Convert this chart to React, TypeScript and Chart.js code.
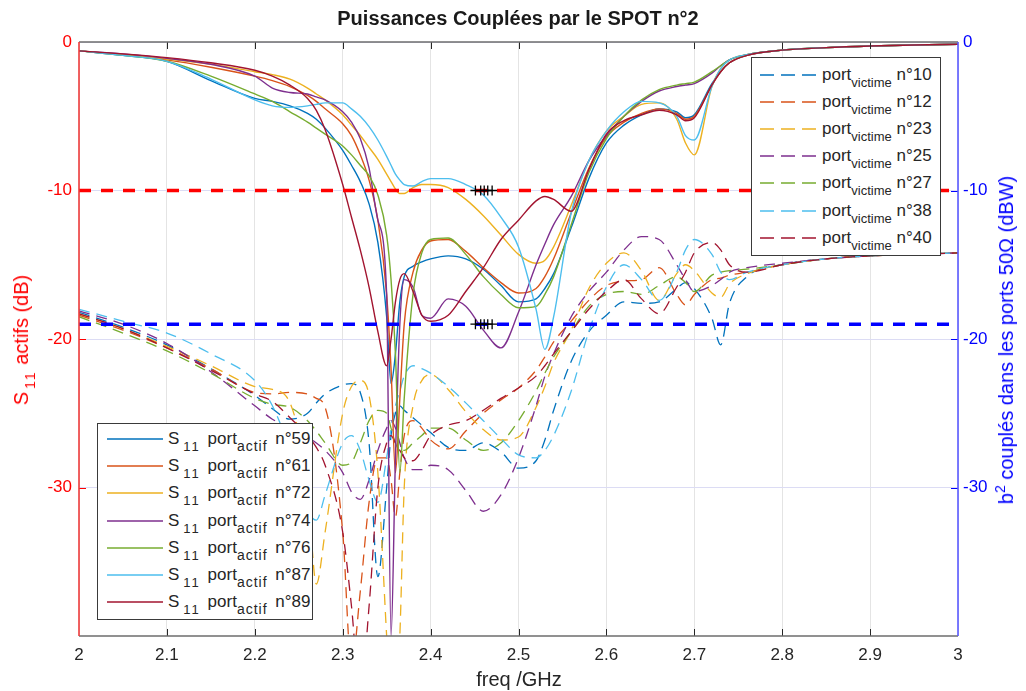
import React, { useEffect, useRef } from 'react';
import { Chart, registerables } from 'chart.js';
Chart.register(...registerables);

const FONT = "'Liberation Sans', Arial, Helvetica, sans-serif";

// ---------- data ----------
const freq = [2.0, 2.05, 2.1, 2.15, 2.2, 2.22, 2.24, 2.26, 2.27, 2.28, 2.3, 2.31, 2.32, 2.33, 2.34, 2.35, 2.355, 2.36, 2.365, 2.37, 2.38, 2.39, 2.4, 2.42, 2.44, 2.46, 2.48, 2.5, 2.52, 2.53, 2.54, 2.56, 2.58, 2.6, 2.62, 2.64, 2.66, 2.68, 2.69, 2.7, 2.72, 2.73, 2.74, 2.76, 2.8, 2.85, 2.9, 2.95, 3.0];

const s11Labels = ['59', '61', '72', '74', '76', '87', '89'];
const victimeLabels = ['10', '12', '23', '25', '27', '38', '40'];
const seriesColors = ['#0072BD', '#D95319', '#EDB120', '#7E2F8E', '#77AC30', '#4DBEEE', '#A2142F'];

const s11_59 = [-0.6, -0.9, -1.3, -2.6, -3.8, -4.0, -4.3, -4.8, -5.2, -5.8, -7.3, -8.3, -9.4, -10.9, -13.5, -18.5, -23.0, -21.0, -17.5, -15.8, -15.1, -14.8, -14.6, -14.4, -14.6, -15.3, -16.4, -17.5, -17.3, -16.6, -15.6, -12.5, -9.2, -6.8, -5.6, -4.9, -4.5, -4.7, -5.1, -4.9, -2.8, -2.0, -1.4, -0.9, -0.55, -0.38, -0.27, -0.2, -0.15];
const s11_61 = [-0.6, -0.85, -1.2, -1.7, -2.3, -2.6, -3.0, -3.6, -4.0, -4.5, -5.5, -6.3, -7.6, -9.3, -12.0, -17.0, -22.0, -29.0, -24.0, -19.0, -15.5, -14.0, -13.4, -13.3, -14.1, -15.2, -16.2, -16.9, -16.6, -15.8, -14.6, -11.5, -8.5, -6.4, -5.4, -4.8, -4.5, -4.8, -5.2, -5.0, -2.9, -2.0, -1.4, -0.9, -0.55, -0.38, -0.27, -0.2, -0.15];
const s11_72 = [-0.6, -0.85, -1.15, -1.5, -2.0, -2.2, -2.5, -3.1, -3.5, -3.9, -4.9, -5.6, -6.3, -7.1, -7.9, -8.9, -9.4, -9.9, -10.2, -10.2, -9.8, -9.6, -9.6, -9.8, -10.6, -11.7, -13.0, -14.3, -14.9, -14.7, -13.8, -11.0, -8.0, -6.0, -5.0, -4.2, -4.1, -5.2, -6.8, -7.6, -3.0, -1.8, -1.2, -0.85, -0.55, -0.38, -0.27, -0.2, -0.15];
const s11_74 = [-0.6, -0.8, -1.1, -1.5, -2.3, -3.1, -3.4, -3.5, -3.7, -3.9, -4.7, -5.4, -6.5, -8.5, -12.0, -17.0, -40.0, -28.0, -19.0, -16.0, -16.5, -18.4, -18.6, -17.3, -17.8, -19.4, -20.6, -18.2, -15.0, -13.6, -12.3, -10.4, -8.0, -6.3, -5.0, -4.0, -3.3, -3.0, -2.9, -2.8, -2.1, -1.6, -1.2, -0.85, -0.55, -0.38, -0.27, -0.2, -0.15];
const s11_76 = [-0.6, -0.9, -1.3, -2.3, -3.5, -4.0, -4.7, -5.4, -5.8, -6.2, -7.0, -7.6, -8.3, -9.0, -10.3, -13.0, -16.0, -21.0, -29.0, -24.0, -17.0, -14.2, -13.3, -13.2, -14.3, -15.8, -17.0, -17.9, -17.8, -17.0, -15.8, -12.3, -8.8, -6.5, -5.0, -3.9, -3.2, -2.9, -2.8, -2.7, -2.0, -1.6, -1.2, -0.85, -0.55, -0.38, -0.27, -0.2, -0.15];
const s11_87 = [-0.6, -0.9, -1.3, -2.5, -3.9, -4.3, -4.4, -4.3, -4.2, -4.1, -4.1, -4.5, -5.0, -5.7, -6.6, -7.7, -8.3, -8.9, -9.3, -9.6, -9.7, -9.4, -9.2, -9.2, -9.6, -10.3, -11.8, -13.8, -18.0, -20.7, -18.5, -11.5, -8.0, -6.0, -4.7, -4.0, -4.1, -5.0, -6.3, -6.6, -3.0, -1.8, -1.2, -0.85, -0.55, -0.38, -0.27, -0.2, -0.15];
const s11_89 = [-0.6, -0.8, -1.05, -1.4, -1.9, -2.3, -2.9, -3.8, -4.6, -5.9, -9.6, -11.8, -14.0, -16.5, -19.5, -21.8, -20.0, -17.5, -16.0, -15.6, -16.8, -18.4, -18.8, -18.4, -16.8, -15.2, -13.3, -12.0, -10.7, -10.4, -10.6, -11.4, -8.6, -6.2, -5.3, -4.9, -4.6, -4.9, -5.3, -5.1, -2.9, -2.0, -1.4, -0.9, -0.55, -0.38, -0.27, -0.2, -0.15];

const v_10 = [-18.2, -19.2, -20.4, -22.0, -23.8, -24.7, -25.4, -25.0, -24.3, -23.7, -23.1, -23.0, -23.6, -27.0, -36.0, -30.0, -26.5, -25.0, -24.5, -24.8, -25.3, -25.8, -26.3, -27.3, -27.5, -27.0, -27.6, -28.7, -28.2, -26.8, -24.8, -21.5, -19.5, -18.4, -17.5, -17.6, -17.5, -16.6, -16.2, -16.6, -18.6, -20.4, -17.6, -15.8, -15.0, -14.6, -14.4, -14.3, -14.2];
const v_12 = [-18.4, -19.4, -20.6, -22.0, -23.6, -23.7, -23.6, -23.7, -24.0, -24.6, -33.0, -42.0, -37.0, -31.0, -28.0, -28.0, -29.5, -32.0, -29.0, -26.5, -25.5, -26.0, -26.8, -27.4, -26.2, -25.0, -24.1, -23.3, -22.1, -21.2, -20.2, -18.8, -17.4, -16.4, -16.1, -16.0, -15.2, -17.0, -17.7, -17.0, -16.0, -15.9, -15.7, -15.5, -15.0, -14.6, -14.4, -14.3, -14.2];
const v_23 = [-18.3, -19.3, -20.5, -21.8, -23.2, -23.4, -24.3, -30.0, -36.5, -33.0, -25.0, -23.2, -22.8, -23.8, -29.0, -40.0, -45.0, -45.0, -40.0, -30.0, -24.5, -22.8, -22.4, -23.4, -24.9, -26.1, -26.8, -26.6, -24.6, -23.2, -21.6, -19.4, -16.6, -14.9, -14.2, -15.4, -17.4, -15.6, -15.0, -15.4, -16.9, -17.2, -16.3, -15.6, -15.0, -14.6, -14.4, -14.3, -14.2];
const v_25 = [-18.1, -19.0, -20.3, -22.2, -24.5, -25.4, -26.0, -26.6, -27.0, -27.5, -29.0, -30.3, -30.8, -29.5, -27.5, -26.0, -25.5, -26.0, -27.0, -28.0, -28.8, -28.8, -28.5, -28.8, -30.2, -31.6, -30.5, -28.0, -24.5, -22.5, -21.0, -18.5, -16.8, -15.5, -14.0, -13.1, -13.3, -15.0, -16.0, -16.8, -16.4, -16.0, -15.5, -15.2, -14.9, -14.6, -14.4, -14.3, -14.2];
const v_27 = [-18.5, -19.6, -20.8, -22.3, -24.0, -24.4, -24.6, -25.5, -26.2, -27.0, -28.5, -28.3, -27.0, -25.5, -24.8, -25.0, -26.0, -27.0, -27.5, -27.5, -27.0, -26.5, -26.0, -26.0, -26.8, -27.5, -27.0, -25.5, -23.5, -22.3, -21.2, -19.5, -17.8, -17.0, -16.8, -17.0, -16.4, -15.8, -16.2, -16.8, -15.7, -15.5, -15.4, -15.3, -15.0, -14.6, -14.4, -14.3, -14.2];
const v_38 = [-18.0, -18.8, -19.6, -21.0, -22.8, -24.5, -27.5, -31.5, -32.2, -30.5, -27.0, -26.5, -27.5, -29.5, -31.0, -28.0, -26.0, -24.5, -23.5, -22.5, -21.8, -22.0, -22.3, -23.2, -24.3, -25.5, -26.7, -27.8, -28.0, -27.5, -26.5, -23.5, -19.5, -16.5, -15.0, -16.0, -17.4, -15.5, -14.0, -13.3, -14.3, -15.5, -16.0, -15.5, -15.0, -14.6, -14.4, -14.3, -14.2];
const v_40 = [-18.3, -19.3, -20.6, -22.1, -23.7, -24.2, -25.3, -26.5, -27.3, -28.5, -33.0, -38.0, -44.0, -38.0, -30.0, -27.0, -26.5, -27.0, -27.5, -28.0, -28.2, -27.5, -26.5, -25.8, -25.5, -24.8, -24.0, -23.3, -22.5, -21.8, -21.0, -19.5, -18.0, -16.8, -16.0, -17.3, -18.3, -16.5, -15.5, -14.2, -13.5, -14.0, -15.0, -15.5, -15.0, -14.6, -14.4, -14.3, -14.2];

const s11Series = [s11_59, s11_61, s11_72, s11_74, s11_76, s11_87, s11_89];
const victimeSeries = [v_10, v_12, v_23, v_25, v_27, v_38, v_40];

const s11Threshold = -10;
const coupledThreshold = -19;
const markerFreqs = [2.451, 2.457, 2.461, 2.465, 2.47];

const xMin = 2, xMax = 3, yMin = -40, yMax = 0;

// ---------- chart ----------
const framePlugin = {
  id: 'frame',
  afterDraw(chart: any) {
    const { ctx, chartArea: a, scales } = chart;
    ctx.save();
    ctx.lineWidth = 1;
    ctx.strokeStyle = '#262626';
    for (let i = 1; i < 10; i++) {
      const px = Math.round(scales.x.getPixelForValue(2 + i / 10)) + 0.5;
      ctx.beginPath();
      ctx.moveTo(px, a.bottom); ctx.lineTo(px, a.bottom - 7);
      ctx.moveTo(px, a.top); ctx.lineTo(px, a.top + 7);
      ctx.stroke();
    }
    [-10, -20, -30].forEach((v) => {
      const py = Math.round(scales.y.getPixelForValue(v)) + 0.5;
      ctx.strokeStyle = '#ff0000';
      ctx.beginPath(); ctx.moveTo(a.left, py); ctx.lineTo(a.left + 7, py); ctx.stroke();
      ctx.strokeStyle = '#0000ff';
      ctx.beginPath(); ctx.moveTo(a.right, py); ctx.lineTo(a.right - 7, py); ctx.stroke();
    });
    ctx.lineWidth = 1.6;
    ctx.strokeStyle = '#6e6e6e';
    ctx.beginPath();
    ctx.moveTo(a.left, a.top); ctx.lineTo(a.right, a.top);
    ctx.moveTo(a.left, a.bottom); ctx.lineTo(a.right, a.bottom);
    ctx.stroke();
    ctx.strokeStyle = '#ee3b3b';
    ctx.beginPath(); ctx.moveTo(a.left, a.top); ctx.lineTo(a.left, a.bottom); ctx.stroke();
    ctx.strokeStyle = '#5a5aff';
    ctx.beginPath(); ctx.moveTo(a.right, a.top); ctx.lineTo(a.right, a.bottom); ctx.stroke();
    ctx.restore();
  },
};

function toPoints(arr: number[]) {
  return freq.map((x, i) => ({ x, y: arr[i] }));
}

function Sub({ children, top = 6, size = 13, spacing = 0, ml = 0, mr = 0 }: any) {
  return (
    <span style={{ fontSize: size, position: 'relative', top, letterSpacing: spacing, marginLeft: ml, marginRight: mr }}>
      {children}
    </span>
  );
}

function LegendRow({ y, x0, x1, textX, color, dashed, children }: any) {
  return (
    <>
      <svg style={{ position: 'absolute', left: x0, top: y - 4, width: x1 - x0, height: 8 }}>
        <line x1={0} y1={4} x2={x1 - x0} y2={4} stroke={color} strokeWidth={1.5}
          strokeDasharray={dashed ? '14 7' : undefined} />
      </svg>
      <div style={{ position: 'absolute', left: textX, top: y - 10, fontSize: 17, lineHeight: '20px', whiteSpace: 'nowrap', color: '#262626' }}>
        {children}
      </div>
    </>
  );
}

export default function App() {
  const ref = useRef<HTMLCanvasElement>(null);

  useEffect(() => {
    if (!ref.current) return;
    const s11Sets = s11Series.map((arr, i) => ({
      label: 'S11 port actif n°' + s11Labels[i],
      data: toPoints(arr),
      borderColor: seriesColors[i],
      borderWidth: 1.4,
      pointRadius: 0,
      fill: false,
      cubicInterpolationMode: 'monotone' as const,
      yAxisID: 'y',
      order: 100 - i,
    }));
    const victimeSets = victimeSeries.map((arr, i) => ({
      label: 'port victime n°' + victimeLabels[i],
      data: toPoints(arr),
      borderColor: seriesColors[i],
      borderWidth: 1.3,
      borderDash: [11, 7],
      pointRadius: 0,
      fill: false,
      cubicInterpolationMode: 'monotone' as const,
      yAxisID: 'y2',
      order: 200 - i,
    }));
    const refSets = [
      { label: 'seuil S11', data: [{ x: xMin, y: s11Threshold }, { x: xMax, y: s11Threshold }], borderColor: '#ff0000', borderWidth: 3.5, borderDash: [12, 10], pointRadius: 0, yAxisID: 'y', order: 5 },
      { label: 'seuil b2', data: [{ x: xMin, y: coupledThreshold }, { x: xMax, y: coupledThreshold }], borderColor: '#0000ff', borderWidth: 3.5, borderDash: [12, 10], pointRadius: 0, yAxisID: 'y2', order: 5 },
    ];
    const markerSets = [s11Threshold, coupledThreshold].map((yv, k) => ({
      label: 'marqueurs ' + k,
      data: markerFreqs.map((x) => ({ x, y: yv })),
      showLine: false,
      pointStyle: 'cross' as const,
      pointRadius: 5,
      borderColor: '#000000',
      borderWidth: 1.3,
      yAxisID: 'y',
      order: 0,
    }));

    const tickFont = { family: FONT, size: 17 };
    const chart = new Chart(ref.current, {
      type: 'line',
      data: { datasets: [...markerSets, ...refSets, ...s11Sets, ...victimeSets] as any },
      options: {
        animation: false,
        responsive: false,
        maintainAspectRatio: false,
        layout: { padding: { top: 42, left: 0, right: 0, bottom: 0 } },
        plugins: { legend: { display: false }, tooltip: { enabled: false }, title: { display: false } },
        scales: {
          x: {
            type: 'linear', min: xMin, max: xMax,
            ticks: { stepSize: 0.1, autoSkip: false, maxRotation: 0, color: '#262626', font: tickFont, padding: 9,
              callback: (v: any) => String(Number(Number(v).toFixed(1))) },
            grid: { color: '#e4e4e4', drawTicks: false, lineWidth: 1 },
            border: { display: false },
            afterFit: (s: any) => { s.height = 55; },
          },
          y: {
            position: 'left', min: yMin, max: yMax,
            ticks: { stepSize: 10, color: '#ff0000', font: tickFont, padding: 7 },
            grid: { color: '#dcdcf4', drawTicks: false, lineWidth: 1 },
            border: { display: false },
            afterBuildTicks: (s: any) => { s.ticks = s.ticks.filter((t: any) => t.value > yMin); },
            afterFit: (s: any) => { s.width = 79; },
          },
          y2: {
            position: 'right', min: yMin, max: yMax,
            ticks: { stepSize: 10, color: '#0000ff', font: tickFont, padding: 5 },
            grid: { display: false, drawTicks: false },
            border: { display: false },
            afterBuildTicks: (s: any) => { s.ticks = s.ticks.filter((t: any) => t.value > yMin); },
            afterFit: (s: any) => { s.width = 68; },
          },
        },
      },
      plugins: [framePlugin],
    } as any);
    return () => chart.destroy();
  }, []);

  const s11RowY = (i: number) => 439 + i * 27.2;
  const vRowY = (i: number) => 75 + i * 27.1;

  return (
    <div style={{ position: 'absolute', left: 0, top: 0, width: 1026, height: 691, background: '#fff', fontFamily: FONT, overflow: 'hidden' }}>
      <canvas ref={ref} width={1026} height={691} style={{ position: 'absolute', left: 0, top: 0, width: 1026, height: 691 }} />
      <div style={{ position: 'absolute', left: 0, width: 1036, top: 7, textAlign: 'center', fontSize: 20, fontWeight: 'bold', lineHeight: '22px', color: '#1a1a1a' }}>
        Puissances Couplées par le SPOT n°2
      </div>
      <div style={{ position: 'absolute', left: 0, width: 1038, top: 668, textAlign: 'center', fontSize: 20, lineHeight: '22px', color: '#262626' }}>
        freq /GHz
      </div>
      <div style={{ position: 'absolute', left: 22, top: 340, transform: 'translate(-50%,-50%) rotate(-90deg)', fontSize: 20, whiteSpace: 'nowrap', color: '#ff0000', lineHeight: '24px' }}>
        S<Sub top={7} size={14} spacing={2} ml={3}>11</Sub> actifs (dB)
      </div>
      <div style={{ position: 'absolute', left: 1007, top: 340, transform: 'translate(-50%,-50%) rotate(-90deg)', fontSize: 20, whiteSpace: 'nowrap', color: '#0000ff', lineHeight: '24px' }}>
        b<Sub top={-8} size={14}>2</Sub> couplés dans les ports 50Ω (dBW)
      </div>

      <div style={{ position: 'absolute', left: 97, top: 423, width: 216, height: 197, border: '1.5px solid #3a3a3a', background: '#fff', boxSizing: 'border-box' }} />
      {s11Labels.map((lab, i) => (
        <LegendRow key={'s' + lab} y={s11RowY(i)} x0={107} x1={163} textX={168} color={seriesColors[i]} dashed={false}>
          S<Sub top={7} spacing={2} ml={4} mr={2}>11</Sub> port<Sub top={7} size={14} spacing={1} mr={3}>actif</Sub> n°{lab}
        </LegendRow>
      ))}

      <div style={{ position: 'absolute', left: 751, top: 57, width: 190, height: 199, border: '1.5px solid #3a3a3a', background: '#fff', boxSizing: 'border-box' }} />
      {victimeLabels.map((lab, i) => (
        <LegendRow key={'v' + lab} y={vRowY(i)} x0={760} x1={817} textX={822} color={seriesColors[i]} dashed={true}>
          port<Sub top={7}>victime</Sub> n°{lab}
        </LegendRow>
      ))}
    </div>
  );
}
